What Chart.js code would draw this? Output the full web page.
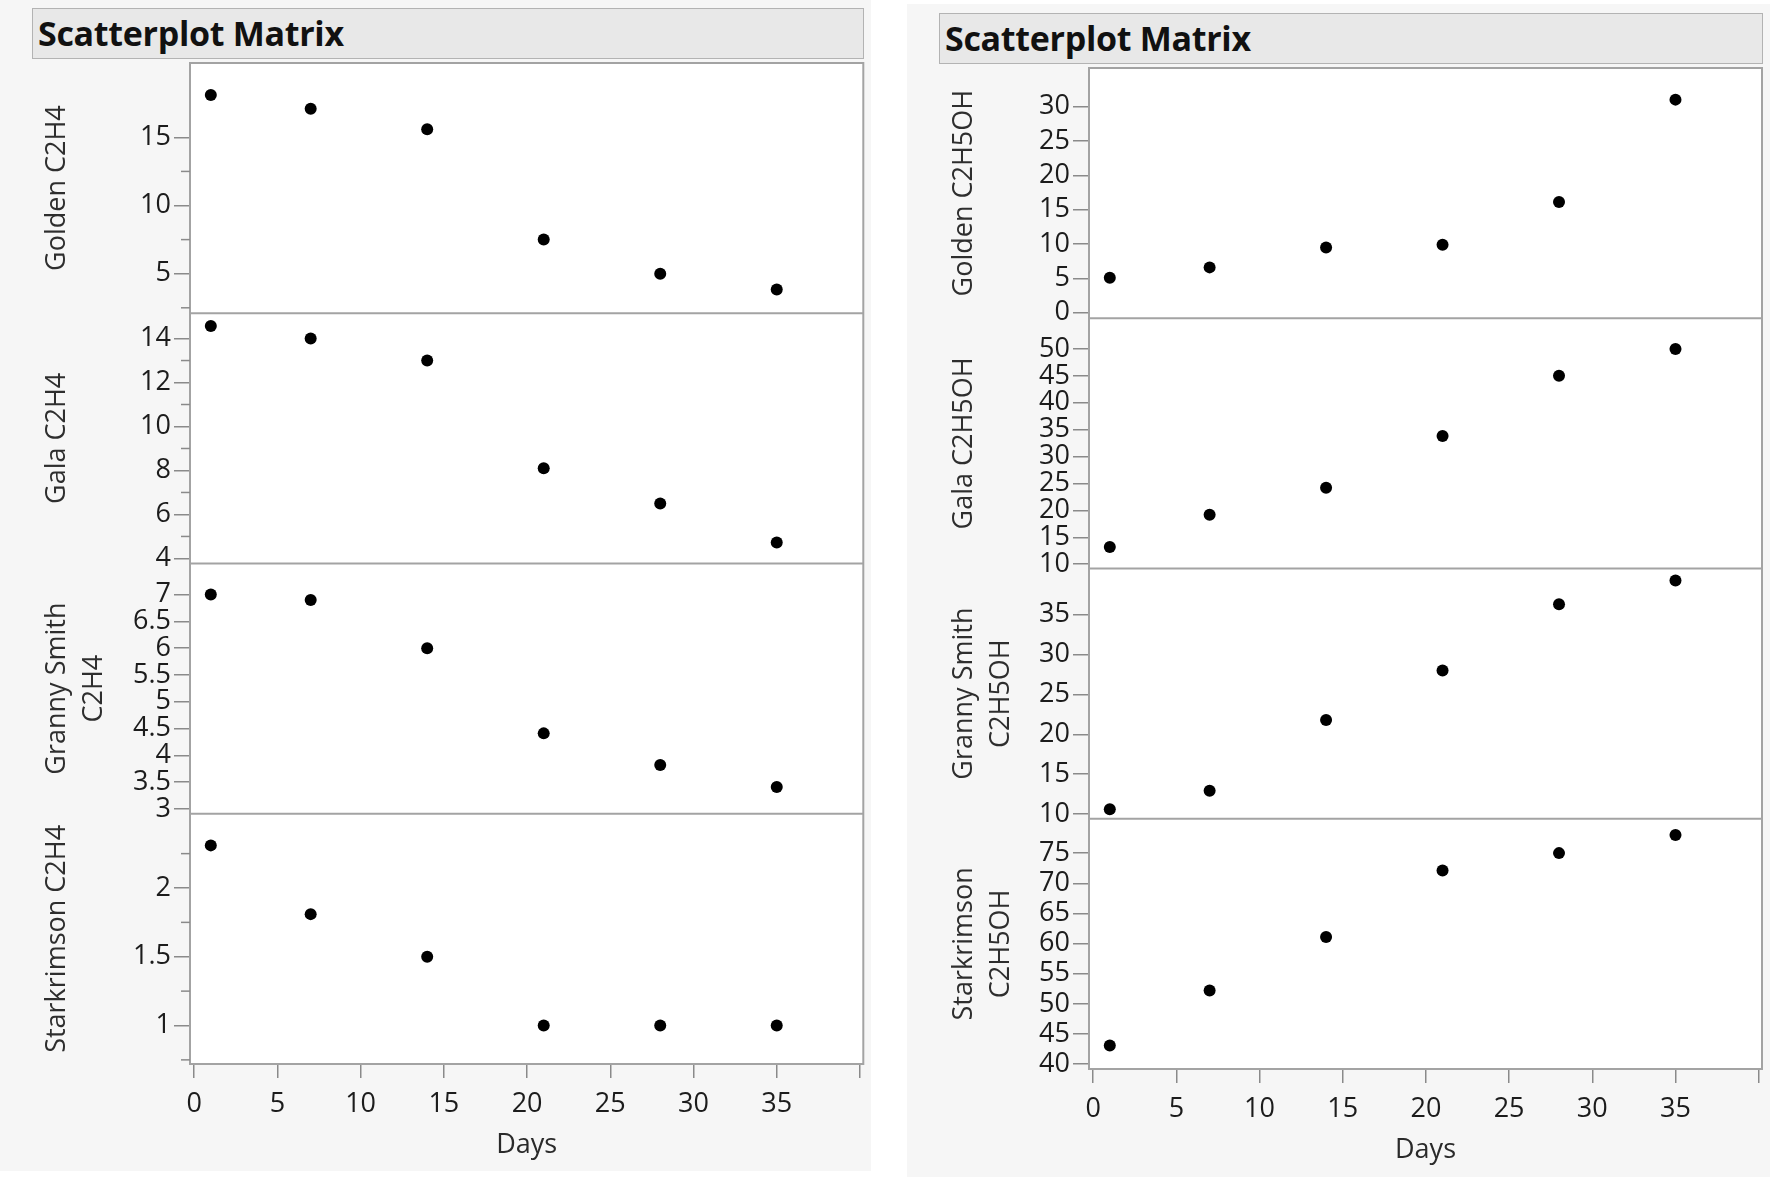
<!DOCTYPE html>
<html><head><meta charset="utf-8">
<script src="https://cdn.jsdelivr.net/npm/chart.js@4.4.1/dist/chart.umd.min.js"></script>
<style>
html,body{margin:0;padding:0;background:#fff;width:1770px;height:1177px;overflow:hidden;}
.panel{position:absolute;background:#f6f6f6;}
.tbar{position:absolute;background:#e8e8e8;border:1px solid #b3b3b3;box-sizing:border-box;font-family:'Open Sans',sans-serif;font-weight:700;font-size:34px;color:#111;line-height:48px;padding-left:5px;letter-spacing:-0.3px;white-space:nowrap;}
.holder{position:absolute;}
canvas{display:block;}
</style></head><body>
<div class="panel" style="left:0;top:0;width:871px;height:1171px"></div>
<div class="panel" style="left:907px;top:4px;width:863px;height:1173px"></div>
<div class="tbar" style="left:32px;top:8px;width:832px;height:51px">Scatterplot Matrix</div>
<div class="tbar" style="left:939px;top:13px;width:824px;height:51px">Scatterplot Matrix</div>
<div class="holder" style="left:0;top:0;"><canvas id="c1" width="871" height="1171"></canvas></div>
<div class="holder" style="left:907px;top:0;"><canvas id="c2" width="863" height="1177"></canvas></div>
<script>
// ---- data ----
const days = [1, 7, 14, 21, 28, 35];
const xRange = [-0.25, 40.2];
const xTicks = [0, 5, 10, 15, 20, 25, 30, 35, 40];
const xTickLabels = ['0', '5', '10', '15', '20', '25', '30', '35', ''];
const xTitle = 'Days';

const goldenC2H4 = [18.1, 17.1, 15.6, 7.5, 5.0, 3.85];
const galaC2H4 = [14.57, 14.0, 13.0, 8.1, 6.5, 4.72];
const grannyC2H4 = [7.0, 6.9, 6.0, 4.41, 3.82, 3.41];
const starkC2H4 = [2.31, 1.81, 1.5, 1.0, 1.0, 1.0];

const goldenC2H5OH = [5.1, 6.6, 9.5, 9.9, 16.1, 31.0];
const galaC2H5OH = [13.2, 19.2, 24.2, 33.8, 45.0, 50.0];
const grannyC2H5OH = [10.6, 12.9, 21.8, 28.0, 36.3, 39.3];
const starkC2H5OH = [43.1, 52.2, 61.1, 72.1, 75.0, 78.0];

const leftTitles = [['Golden C2H4'], ['Gala C2H4'], ['Granny Smith', 'C2H4'], ['Starkrimson C2H4']];
const rightTitles = [['Golden C2H5OH'], ['Gala C2H5OH'], ['Granny Smith', 'C2H5OH'], ['Starkrimson', 'C2H5OH']];

const goldenC2H4Range = [2.1, 20.45];
const galaC2H4Range = [3.77, 15.15];
const grannyC2H4Range = [2.91, 7.58];
const starkC2H4Range = [0.72, 2.54];
const goldenC2H5OHRange = [-0.8, 35.6];
const galaC2H5OHRange = [9.2, 55.7];
const grannyC2H5OHRange = [9.4, 40.8];
const starkC2H5OHRange = [39.2, 80.7];

const goldenC2H4Ticks = [5, 10, 15];
const galaC2H4Ticks = [4, 6, 8, 10, 12, 14];
const grannyC2H4Ticks = [3, 3.5, 4, 4.5, 5, 5.5, 6, 6.5, 7];
const starkC2H4Ticks = [1, 1.5, 2];
const goldenC2H5OHTicks = [0, 5, 10, 15, 20, 25, 30];
const galaC2H5OHTicks = [10, 15, 20, 25, 30, 35, 40, 45, 50];
const grannyC2H5OHTicks = [10, 15, 20, 25, 30, 35];
const starkC2H5OHTicks = [40, 45, 50, 55, 60, 65, 70, 75];

const goldenC2H4Minor = [2.5, 7.5, 12.5];
const galaC2H4Minor = [5, 7, 9, 11, 13];
const grannyC2H4Minor = [];
const starkC2H4Minor = [0.75, 1.25, 1.75, 2.25];

// ---- styling ----
const FONT = "'Open Sans', 'Noto Sans', sans-serif";
const TICK_COLOR = '#8a8a8a';
const FRAME_COLOR = '#a3a3a3';

const framePlugin = {
  id: 'frame',
  beforeDraw(chart) {
    const a = chart.chartArea, ctx = chart.ctx;
    ctx.save();
    ctx.fillStyle = '#ffffff';
    ctx.fillRect(a.left, a.top, a.right - a.left, a.bottom - a.top);
    ctx.restore();
  },
  beforeDatasetsDraw(chart) {
    const a = chart.chartArea, ctx = chart.ctx;
    const minorMap = chart.config.options.plugins.frame.minor || {};
    ctx.save();
    ctx.strokeStyle = FRAME_COLOR;
    ctx.lineWidth = 2;
    ctx.strokeRect(a.left, a.top, a.right - a.left, a.bottom - a.top);
    Object.keys(chart.scales).forEach(id => {
      const s = chart.scales[id];
      if (id === 'x') return;
      if (s.bottom < a.bottom - 2) {
        ctx.beginPath();
        ctx.moveTo(a.left, s.bottom);
        ctx.lineTo(a.right, s.bottom);
        ctx.stroke();
      }
      const minors = minorMap[id] || [];
      ctx.strokeStyle = TICK_COLOR;
      ctx.lineWidth = 1.5;
      minors.forEach(v => {
        const py = s.getPixelForValue(v);
        ctx.beginPath();
        ctx.moveTo(a.left - 9, py);
        ctx.lineTo(a.left, py);
        ctx.stroke();
      });
      ctx.strokeStyle = FRAME_COLOR;
      ctx.lineWidth = 2;
    });
    ctx.restore();
  }
};

function makePanel(canvasId, rows, yWidth, padding) {
  const scales = {
    x: {
      type: 'linear', position: 'bottom', min: xRange[0], max: xRange[1],
      afterBuildTicks: s => { s.ticks = xTicks.map(v => ({ value: v })); },
      afterFit: s => { s.height = 100; },
      ticks: {
        autoSkip: false, maxRotation: 0, padding: 11, color: '#1c1c1c',
        font: { family: FONT, size: 27, lineHeight: 1.1 },
        callback: (v, i) => xTickLabels[i]
      },
      grid: { drawOnChartArea: false, drawTicks: true, tickLength: 14, color: TICK_COLOR, lineWidth: 1.5 },
      border: { display: false },
      title: { display: true, text: xTitle, color: '#2a2a2a', font: { family: FONT, size: 27, lineHeight: 1.2 }, padding: { top: 4, bottom: 2 } }
    }
  };
  const datasets = [];
  const minor = {};
  rows.forEach((r, i) => {
    const id = 'y' + i;
    scales[id] = {
      type: 'linear', position: 'left', stack: 'rows', stackWeight: 1, weight: rows.length - i,
      min: r.range[0], max: r.range[1],
      afterBuildTicks: s => { s.ticks = r.ticks.map(v => ({ value: v })); },
      afterFit: s => { s.width = yWidth; },
      ticks: { autoSkip: false, padding: 3, color: '#1c1c1c', font: { family: FONT, size: 27, lineHeight: 1 }, callback: v => String(v) },
      grid: { drawOnChartArea: false, drawTicks: true, tickLength: 16, color: TICK_COLOR, lineWidth: 1.5 },
      border: { display: false },
      title: { display: true, text: r.title, color: '#2e2e2e', font: { family: FONT, size: 27, lineHeight: 1.4 }, padding: { top: 38, bottom: 0 } }
    };
    minor[id] = r.minor || [];
    datasets.push({
      label: r.title.join(' '),
      yAxisID: id, xAxisID: 'x',
      data: days.map((d, k) => ({ x: d, y: r.values[k] })),
      pointRadius: 6, pointBackgroundColor: '#000', pointBorderColor: '#000', pointBorderWidth: 0,
      showLine: false
    });
  });
  return new Chart(document.getElementById(canvasId), {
    type: 'scatter',
    data: { datasets },
    options: {
      responsive: false, animation: false, devicePixelRatio: 1,
      layout: { padding },
      scales,
      plugins: { legend: { display: false }, tooltip: { enabled: false }, frame: { minor } }
    },
    plugins: [framePlugin]
  });
}

makePanel('c1', [
  { title: leftTitles[0], values: goldenC2H4, range: goldenC2H4Range, ticks: goldenC2H4Ticks, minor: goldenC2H4Minor },
  { title: leftTitles[1], values: galaC2H4, range: galaC2H4Range, ticks: galaC2H4Ticks, minor: galaC2H4Minor },
  { title: leftTitles[2], values: grannyC2H4, range: grannyC2H4Range, ticks: grannyC2H4Ticks, minor: grannyC2H4Minor },
  { title: leftTitles[3], values: starkC2H4, range: starkC2H4Range, ticks: starkC2H4Ticks, minor: starkC2H4Minor }
], 190, { left: 0, top: 63, right: 6, bottom: 7 });

makePanel('c2', [
  { title: rightTitles[0], values: goldenC2H5OH, range: goldenC2H5OHRange, ticks: goldenC2H5OHTicks },
  { title: rightTitles[1], values: galaC2H5OH, range: galaC2H5OHRange, ticks: galaC2H5OHTicks },
  { title: rightTitles[2], values: grannyC2H5OH, range: grannyC2H5OHRange, ticks: grannyC2H5OHTicks },
  { title: rightTitles[3], values: starkC2H5OH, range: starkC2H5OHRange, ticks: starkC2H5OHTicks }
], 182, { left: 0, top: 68, right: 8, bottom: 8 });
</script>
</body></html>
